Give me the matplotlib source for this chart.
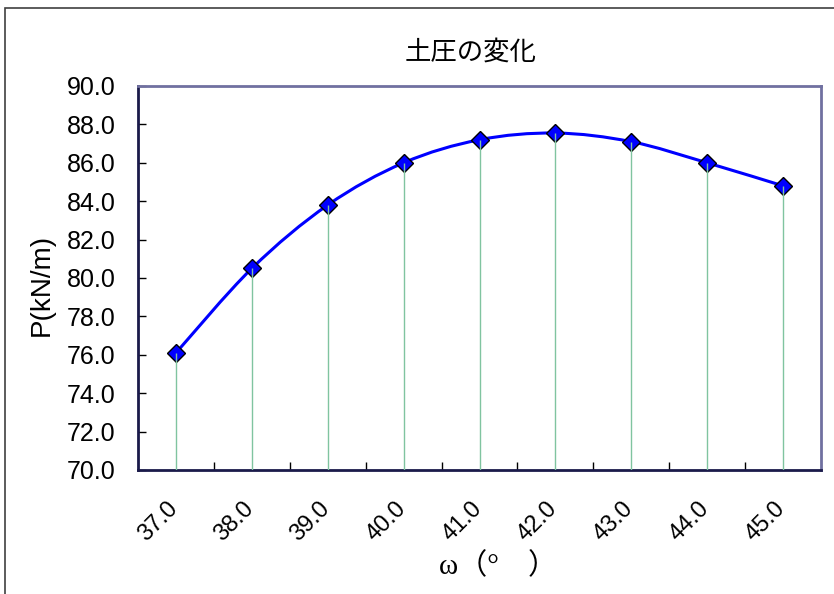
import numpy as np
import matplotlib.pyplot as plt
import matplotlib.transforms as mtransforms
from matplotlib.path import Path
from matplotlib.patches import PathPatch, Rectangle

# データ
omega = ['37.0', '38.0', '39.0', '40.0', '41.0', '42.0', '43.0', '44.0', '45.0']
pressure = [76.1, 80.5, 83.8, 86.0, 87.2, 87.55, 87.1, 86.0, 84.8]

plt.rcParams['font.family'] = ['Liberation Sans', 'Noto Sans CJK JP']

fig = plt.figure(figsize=(8.34, 5.94), dpi=100)
ax = fig.add_axes([138 / 834, 1 - 470 / 594, 683 / 834, 384 / 594])

# 外枠
fig.patches.append(Rectangle((5 / 834, -0.1), 1.2, (594 - 8) / 594 + 0.1,
                             transform=fig.transFigure, fill=False,
                             edgecolor='#404040', linewidth=1.2))

x = np.arange(len(omega))
y = np.array(pressure)

# 平滑線 (Excel風のベジェ曲線)
verts = [(x[0], y[0])]
codes = [Path.MOVETO]
n = len(x)
for i in range(n - 1):
    p0 = np.array([x[max(i - 1, 0)], y[max(i - 1, 0)]])
    p1 = np.array([x[i], y[i]])
    p2 = np.array([x[i + 1], y[i + 1]])
    p3 = np.array([x[min(i + 2, n - 1)], y[min(i + 2, n - 1)]])
    c1 = p1 + (p2 - p0) / 6
    c2 = p2 - (p3 - p1) / 6
    verts += [tuple(c1), tuple(c2), tuple(p2)]
    codes += [Path.CURVE4] * 3
ax.add_patch(PathPatch(Path(verts, codes), fill=False, edgecolor='#0000ff',
                       linewidth=2.2, zorder=3))

ax.plot(x, y, linestyle='none', marker='D', markersize=9.5,
        markerfacecolor='#0000ff', markeredgecolor='black',
        markeredgewidth=1.0, zorder=4)

# 降下線
ax.vlines(x, 70, y, color='#80c4a0', linewidth=1.0, zorder=5)

ax.set_xlim(-0.5, n - 0.5)
ax.set_ylim(70, 90)
yt = np.arange(70, 90.1, 2)
ax.set_yticks(yt, [f'{v:.1f}' for v in yt])
ax.set_xticks(x, omega)
ax.set_xticks(np.arange(0.5, n - 1, 1), minor=True)
ax.tick_params(axis='x', which='major', length=0, pad=20, labelsize=17,
               labelrotation=45)
ax.tick_params(axis='x', which='minor', direction='in', length=6, width=1)
ax.tick_params(axis='y', direction='in', length=6, width=1, pad=16, labelsize=18)

offset = mtransforms.ScaledTranslation(-9 / 100, 0, fig.dpi_scale_trans)
for lab in ax.get_xticklabels():
    lab.set_ha('right')
    lab.set_va('top')
    lab.set_rotation_mode('anchor')
    lab.set_transform(lab.get_transform() + offset)

for side in ['top', 'right']:
    ax.spines[side].set_color('#7070a0')
    ax.spines[side].set_linewidth(2)
for side in ['left', 'bottom']:
    ax.spines[side].set_color('#1a1a4a')
    ax.spines[side].set_linewidth(2)

fig.text(471 / 834, 1 - 52 / 594, '土圧の変化', fontsize=19,
         family=['Noto Sans CJK JP'], ha='center', va='center')
fig.text(42 / 834, 1 - 285 / 594, 'P(kN/m)', fontsize=20, rotation=90,
         ha='center', va='center')
fig.text(498 / 834, 1 - 566 / 594, 'ω（°　）', fontsize=21,
         family=['Liberation Serif', 'Noto Sans CJK JP'], ha='center', va='center')

fig.savefig('out.png', dpi=100)
